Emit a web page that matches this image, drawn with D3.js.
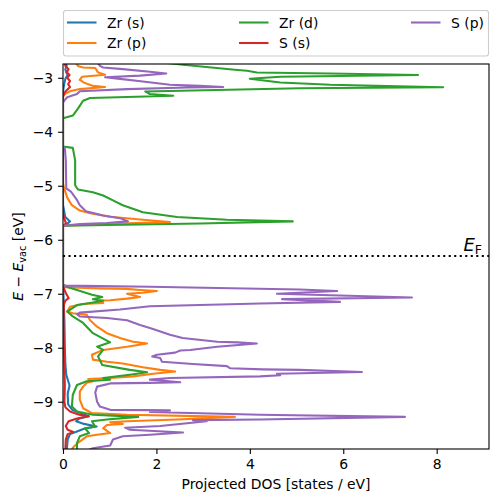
<!DOCTYPE html>
<html><head><meta charset="utf-8">
<script src="https://cdn.jsdelivr.net/npm/d3@7"></script>
<style>body{margin:0;background:#fff;} svg text{font-family:"DejaVu Sans",sans-serif;}</style>
</head><body><svg id="c" width="498" height="502"></svg>
<script>
// ---- data: [energy (eV), projected DOS (states/eV)] ----
const seriesNames = ["Zr (s)", "Zr (p)", "Zr (d)", "S (s)", "S (p)"];
const zrS = [[-2.70,0.05],[-2.78,0.08],[-2.84,0.05],[-2.90,0.07],[-2.95,0.10],[-3.02,0.05],[-3.10,0.03],[-3.20,0.01],[-3.30,0],
  [-5.35,0],[-5.45,0.02],[-5.58,0.05],[-5.66,0.15],[-5.71,0.08],[-5.75,0],
  [-6.85,0],[-7.00,0.01],[-7.50,0.03],[-8.00,0.04],[-8.30,0.05],[-8.50,0.07],[-8.70,0.14],[-8.85,0.10],[-9.05,0.11],
  [-9.15,0.20],[-9.22,0.40],[-9.27,0.55],[-9.31,0.35],[-9.36,0.28],[-9.41,0.45],[-9.46,0.72],[-9.50,0.45],[-9.55,0.30],
  [-9.60,0.15],[-9.70,0.10],[-9.90,0.08]];
const zrP = [[-2.70,0.26],[-2.78,0.32],[-2.81,0.43],[-2.82,0.69],[-2.90,0.75],[-2.945,0.90],[-2.98,0.41],[-3.04,0.36],
  [-3.09,0.45],[-3.14,0.60],[-3.15,0.64],[-3.17,0.90],[-3.21,0.36],[-3.25,0.15],[-3.30,0.04],[-3.35,0],
  [-4.96,0],[-5.03,0.02],[-5.22,0.09],[-5.36,0.19],[-5.46,0.36],[-5.51,0.58],[-5.575,1.01],[-5.63,1.71],[-5.67,2.29],
  [-5.70,1.22],[-5.74,0],
  [-6.82,0],[-6.88,0.04],[-6.90,0.79],[-6.91,1.37],[-6.93,1.65],[-6.95,2.01],[-6.98,1.71],[-7.00,1.37],[-7.06,1.65],
  [-7.09,1.37],[-7.12,1.01],[-7.13,0.73],[-7.17,0.86],[-7.19,0.43],[-7.24,0.15],[-7.33,0.09],[-7.36,0.21],[-7.39,0.51],
  [-7.49,0.58],[-7.61,0.73],[-7.73,0.94],[-7.82,1.22],[-7.89,1.50],[-7.92,1.80],[-7.98,1.37],[-8.04,0.86],[-8.13,0.62],
  [-8.22,0.64],[-8.26,0.94],[-8.29,1.28],[-8.36,1.71],[-8.41,2.08],[-8.44,2.40],[-8.48,1.93],[-8.53,1.50],[-8.56,1.01],
  [-8.58,0.54],[-8.62,0.64],[-8.65,0.51],[-8.72,0.43],[-8.81,0.36],[-8.96,0.36],[-9.12,0.43],[-9.21,0.62],[-9.24,1.37],
  [-9.28,3.68],[-9.33,2.44],[-9.36,1.37],[-9.38,1.01],[-9.41,1.28],[-9.43,0.94],[-9.49,0.86],[-9.58,1.01],[-9.61,0.73],
  [-9.64,0.51],[-9.76,0.32],[-9.85,0.21],[-9.98,0.15]];
const zrD = [[-2.70,2.0],[-2.76,2.57],[-2.852,3.68],[-2.871,3.94],[-2.902,4.15],[-2.922,5.72],[-2.950,7.60],[-2.982,4.65],
  [-3.018,4.00],[-3.087,4.65],[-3.129,5.72],[-3.175,8.14],[-3.194,5.07],[-3.253,1.76],[-3.301,1.86],[-3.332,2.36],
  [-3.375,0.58],[-3.425,0.43],[-3.572,0.32],[-3.70,0.21],[-3.744,0.02],[-3.76,0],
  [-4.274,0],[-4.298,0.21],[-4.53,0.26],[-4.99,0.26],[-5.07,0.32],[-5.12,0.64],[-5.18,0.86],[-5.27,1.07],[-5.36,1.28],
  [-5.49,1.71],[-5.58,2.44],[-5.63,3.51],[-5.66,4.92],[-5.70,2.93],[-5.74,0],
  [-6.82,0],[-6.877,0.09],[-6.93,0.30],[-7.02,0.62],[-7.06,0.84],[-7.10,0.64],[-7.13,0.86],[-7.17,0.58],[-7.21,0.30],
  [-7.33,0.09],[-7.42,0.21],[-7.54,0.43],[-7.73,0.64],[-7.90,1.01],[-7.98,0.73],[-8.04,0.86],[-8.16,0.75],[-8.32,0.84],
  [-8.41,1.43],[-8.455,1.80],[-8.50,1.43],[-8.56,0.86],[-8.59,1.01],[-8.62,0.51],[-8.69,0.30],[-8.87,0.21],[-9.09,0.19],
  [-9.18,0.30],[-9.24,0.64],[-9.28,1.61],[-9.33,0.94],[-9.36,0.62],[-9.46,0.69],[-9.49,0.47],[-9.58,0.56],[-9.64,0.36],
  [-9.76,0.30],[-9.87,0.30],[-9.98,0.26]];
const sS = [[-2.70,0.03],[-2.78,0.05],[-2.84,0.12],[-2.90,0.08],[-2.95,0.14],[-3.00,0.09],[-3.06,0.15],[-3.12,0.11],
  [-3.17,0.15],[-3.23,0.08],[-3.28,0.03],[-3.35,0],
  [-5.50,0],[-5.62,0.03],[-5.68,0.06],[-5.72,0.04],[-5.76,0],
  [-6.85,0],[-6.95,0.04],[-7.02,0.08],[-7.08,0.12],[-7.13,0.05],[-7.20,0.02],[-7.50,0.01],[-8.00,0.02],[-8.40,0.03],
  [-8.70,0.04],[-9.00,0.03],[-9.10,0.05],[-9.18,0.15],[-9.24,0.35],[-9.27,0.55],[-9.31,0.30],[-9.36,0.12],[-9.45,0.06],
  [-9.52,0.10],[-9.56,0.22],[-9.60,0.10],[-9.70,0.06],[-9.90,0.05]];
const sP = [[-2.70,0.73],[-2.78,0.79],[-2.81,0.86],[-2.84,1.28],[-2.89,1.86],[-2.92,2.21],[-2.96,1.65],[-2.99,0.90],
  [-3.02,1.22],[-3.07,1.71],[-3.13,2.29],[-3.15,2.93],[-3.17,3.43],[-3.18,2.66],[-3.21,1.37],[-3.25,0.36],[-3.30,0.30],
  [-3.36,0.09],[-3.41,0.04],[-3.46,0],
  [-4.28,0],[-4.31,0.04],[-4.53,0.06],[-5.05,0.07],[-5.11,0.17],[-5.25,0.29],[-5.36,0.36],[-5.47,0.49],[-5.55,0.86],
  [-5.60,1.22],[-5.66,1.39],[-5.69,0.94],[-5.71,0.36],[-5.74,0],
  [-6.83,0],[-6.85,0.04],[-6.87,1.86],[-6.92,5.07],[-6.95,5.87],[-7.00,4.58],[-7.07,7.47],[-7.10,4.69],[-7.15,5.93],
  [-7.18,4.22],[-7.23,1.86],[-7.29,1.22],[-7.35,0.36],[-7.38,0.30],[-7.42,0.36],[-7.45,0.94],[-7.49,1.37],[-7.58,1.65],
  [-7.65,1.91],[-7.76,2.29],[-7.82,2.56],[-7.89,3.30],[-7.90,3.73],[-7.92,4.15],[-7.98,3.30],[-8.04,2.72],[-8.05,2.51],
  [-8.09,2.40],[-8.13,2.01],[-8.16,1.91],[-8.19,2.08],[-8.26,2.12],[-8.30,2.78],[-8.34,3.51],[-8.38,3.58],[-8.40,4.28],
  [-8.41,5.07],[-8.45,6.40],[-8.48,4.58],[-8.51,4.65],[-8.53,4.22],[-8.56,2.29],[-8.59,1.86],[-8.64,2.51],[-8.65,1.86],
  [-8.66,1.01],[-8.72,0.73],[-8.83,0.69],[-9.00,0.73],[-9.09,0.79],[-9.15,1.01],[-9.155,1.80],[-9.16,2.29],[-9.19,1.86],
  [-9.24,4.22],[-9.28,7.32],[-9.33,4.22],[-9.34,2.78],[-9.36,3.08],[-9.39,2.76],[-9.45,2.08],[-9.48,1.33],[-9.52,1.43],
  [-9.57,2.57],[-9.61,1.86],[-9.64,1.28],[-9.70,1.07],[-9.81,1.01],[-9.86,0.64],[-9.92,0.47]];
const seriesData = [zrS, zrP, zrD, sS, sP];
const xTicks = [0, 2, 4, 6, 8];
const yTicks = [-9, -8, -7, -6, -5, -4, -3];
const fermiLevel = -6.30;

// ---- layout / style ----
const colors = ["#1f77b4", "#ff7f0e", "#2ca02c", "#d62728", "#9467bd"];
const W = 498, H = 502;
const L = 63, R = 489, T = 64, B = 449;
const svg = d3.select("#c");
svg.append("rect").attr("width", W).attr("height", H).attr("fill", "#fff");

const x = d3.scaleLinear().domain([0, 9.12]).range([L, R]);
const y = d3.scaleLinear().domain([-2.745, -9.875]).range([T, B]);

svg.append("clipPath").attr("id", "clip").append("rect")
  .attr("x", L).attr("y", T).attr("width", R - L).attr("height", B - T);

const line = d3.line().x(d => x(d[1])).y(d => y(d[0]));
const gLines = svg.append("g").attr("clip-path", "url(#clip)");
seriesData.forEach((s, i) => {
  gLines.append("path").datum(s).attr("d", line)
    .attr("fill", "none").attr("stroke", colors[i]).attr("stroke-width", 2.08)
    .attr("stroke-linejoin", "round").attr("stroke-linecap", "square");
});

// Fermi level
gLines.append("line").attr("x1", L).attr("x2", R)
  .attr("y1", y(fermiLevel)).attr("y2", y(fermiLevel))
  .attr("stroke", "#000").attr("stroke-width", 2.08).attr("stroke-dasharray", "2.08,3.43");

const ef = svg.append("text").attr("x", 482).attr("y", y(fermiLevel) - 5)
  .attr("text-anchor", "end").attr("font-size", 18).attr("fill", "#000");
ef.append("tspan").attr("font-style", "italic").text("E");
ef.append("tspan").attr("font-size", 12.6).attr("dy", 3).text("F");

// axes
const fs = 13.9;
const xAxis = svg.append("g").attr("transform", `translate(0,${B})`)
  .call(d3.axisBottom(x).tickValues(xTicks).tickSizeOuter(0).tickSize(4.9).tickPadding(4.9).tickFormat(d3.format("d")));
const yAxis = svg.append("g").attr("transform", `translate(${L},0)`)
  .call(d3.axisLeft(y).tickValues(yTicks).tickSizeOuter(0).tickSize(4.9).tickPadding(4.9).tickFormat(d3.format("d")));
[xAxis, yAxis].forEach(g => {
  g.select(".domain").remove();
  g.selectAll("line").attr("stroke", "#000").attr("stroke-width", 1.1);
  g.selectAll("text").attr("font-size", fs).attr("fill", "#000")
    .attr("font-family", "DejaVu Sans, sans-serif");
});

svg.append("rect").attr("x", L).attr("y", T).attr("width", R - L).attr("height", B - T)
  .attr("fill", "none").attr("stroke", "#000").attr("stroke-width", 1.1);

svg.append("text").attr("x", (L + R) / 2).attr("y", 489).attr("text-anchor", "middle")
  .attr("font-size", fs).attr("fill", "#000").text("Projected DOS [states / eV]");

const yl = svg.append("text").attr("transform", `translate(23,${(T + B) / 2}) rotate(-90)`)
  .attr("text-anchor", "middle").attr("font-size", fs).attr("fill", "#000");
yl.append("tspan").attr("font-style", "italic").text("E");
yl.append("tspan").text(" \u2212 ");
yl.append("tspan").attr("font-style", "italic").text("E");
yl.append("tspan").attr("font-size", 9.7).attr("dy", 3).text("vac");
yl.append("tspan").attr("dy", -3).text(" [eV]");

// legend
svg.append("rect").attr("x", 63.5).attr("y", 10.5).attr("width", 425).attr("height", 45.5)
  .attr("rx", 2.5).attr("fill", "#fff").attr("fill-opacity", 0.8)
  .attr("stroke", "#cccccc").attr("stroke-width", 1.1);
const colX = [67, 239, 411];
const rowY = [22.5, 43];
const order = [[0, 0, 0], [1, 0, 1], [2, 1, 0], [3, 1, 1], [4, 2, 0]];
order.forEach(([i, c, r]) => {
  const g = svg.append("g");
  g.append("line").attr("x1", colX[c]).attr("x2", colX[c] + 29.5)
    .attr("y1", rowY[r]).attr("y2", rowY[r]).attr("stroke", colors[i]).attr("stroke-width", 2.08);
  g.append("text").attr("x", colX[c] + 40).attr("y", rowY[r] + 5).attr("font-size", fs)
    .attr("fill", "#000").text(seriesNames[i]);
});
</script></body></html>
